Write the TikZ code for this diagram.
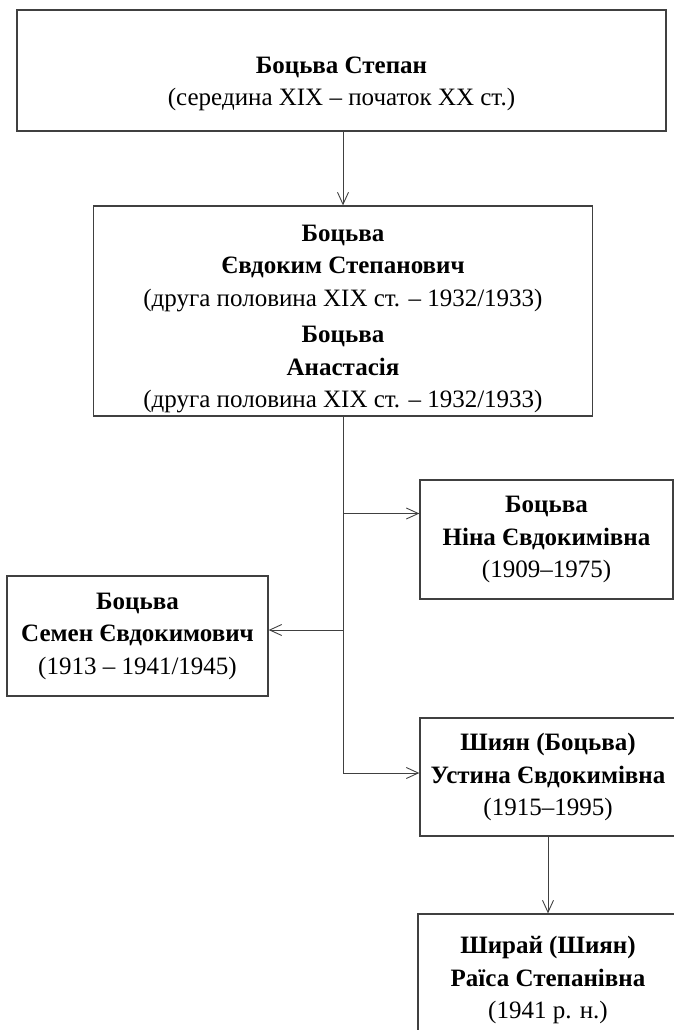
\documentclass[tikz,border=0pt]{standalone}
\usepackage{fontspec}
\setmainfont{Liberation Serif}
\usetikzlibrary{arrows.meta,positioning,calc}

\begin{document}
\begin{tikzpicture}[x=1pt, y=-1pt, >={Straight Barb[length=12pt,width=11pt]},
    box/.style={draw=black!75, line width=1.3pt, inner sep=0pt, align=center,
      font=\fontsize{25}{32.5}\selectfont},
    txt/.style={align=center, inner sep=0pt, font=\fontsize{25}{32.5}\selectfont},
    link/.style={draw=black!75, line width=0.9pt}]
    \useasboundingbox (0,0) rectangle (674,1030);

    % батьки
    \node[box, minimum width=649pt, minimum height=121pt] (stepan) at (341.5,70.5) {};
    \node[txt] (stepantxt) at (341.5,84)
      {\textbf{Боцьва Степан}\\(середина XIX – початок XX ст.)};

    \node[box, minimum width=499pt, minimum height=210pt] (evd) at (343,311) {};
    \node[txt] (evdtxt) at (343,319)
      {\textbf{Боцьва}\\\textbf{Євдоким Степанович}\\(друга половина XIX ст. – 1932/1933)\\[4pt]
       \textbf{Боцьва}\\\textbf{Анастасія}\\(друга половина XIX ст. – 1932/1933)};

    % діти
    \node[box, minimum width=253pt, minimum height=119pt] (nina) at (546.5,539.5)
      {\textbf{Боцьва}\\\textbf{Ніна Євдокимівна}\\(1909–1975)};
    \node[box, minimum width=261pt, minimum height=120pt] (semen) at (137.5,636)
      {\textbf{Боцьва}\\\textbf{Семен Євдокимович}\\(1913 – 1941/1945)};
    \node[box, minimum width=256pt, minimum height=118pt] (ustyna) at (548,777)
      {\textbf{Шиян (Боцьва)}\\\textbf{Устина Євдокимівна}\\(1915–1995)};

    % онука
    \node[box, minimum width=260pt, minimum height=132pt] (raisa) at (548,980)
      {\textbf{Ширай (Шиян)}\\\textbf{Раїса Степанівна}\\(1941 р. н.)};

    % точки входу стрілок
    \coordinate (ninain) at ([yshift=26pt]nina.west);
    \coordinate (semenin) at ([yshift=6pt]semen.east);
    \coordinate (ustynain) at ([yshift=4pt]ustyna.west);

    % зв'язки
    \draw[link,->] (stepan.south -| evd.north) -- (evd.north);
    \draw[link] (evd.south) -- (evd.south |- ustynain);
    \draw[link,->] (evd.south |- ninain) -- (ninain);
    \draw[link,->] (evd.south |- semenin) -- (semenin);
    \draw[link,->] (evd.south |- ustynain) -- (ustynain);
    \draw[link,->] (ustyna.south) -- (raisa.north);
\end{tikzpicture}
\end{document}
